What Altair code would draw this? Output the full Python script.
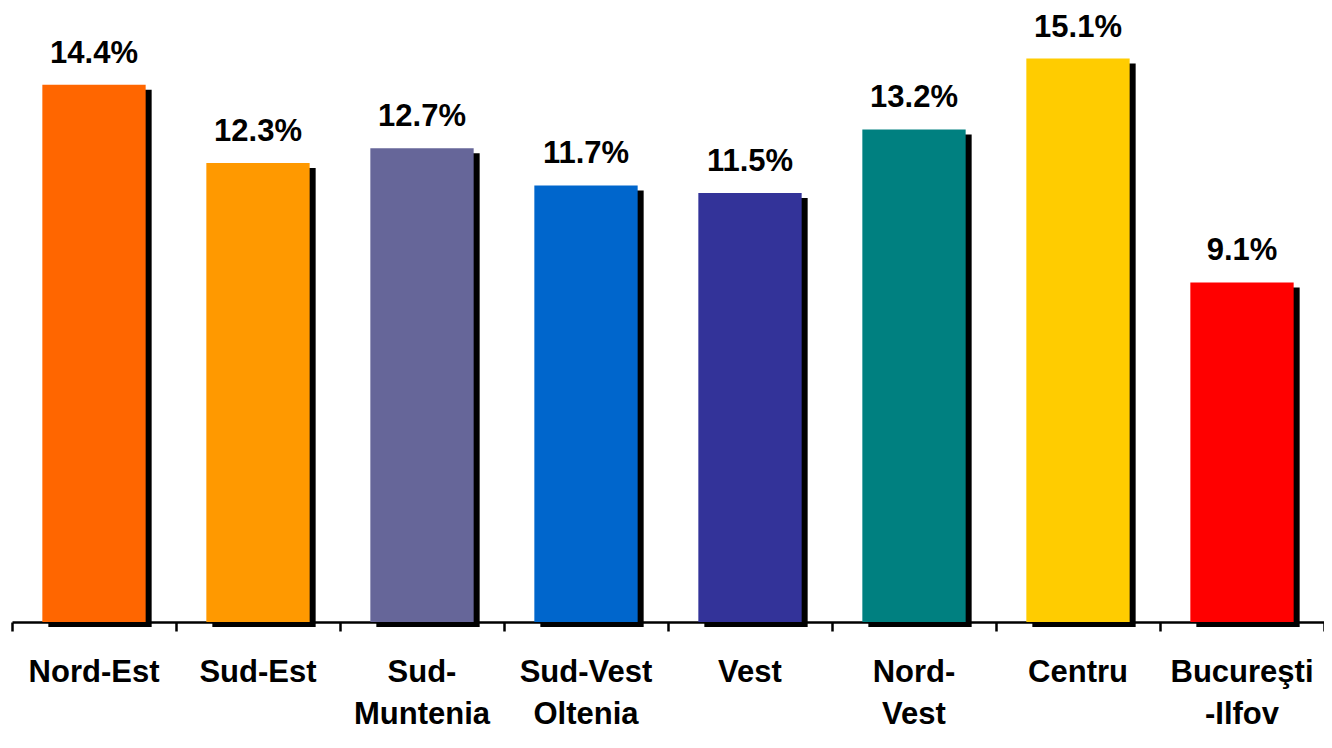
import altair as alt
import pandas as pd

regions = ["Nord-Est", "Sud-Est", "Sud-|Muntenia", "Sud-Vest|Oltenia", "Vest", "Nord-|Vest", "Centru", "Bucureşti|-Ilfov"]
values = [14.4, 12.3, 12.7, 11.7, 11.5, 13.2, 15.1, 9.1]
colors = ["#FF6600", "#FF9900", "#666699", "#0066CC", "#333399", "#008080", "#FFCC00", "#FF0000"]
boundaries = list(range(len(regions) + 1))

df = pd.DataFrame({"region": regions, "value": values, "color": colors,
                   "label": [f"{v:.1f}%" for v in values]})
bdf = pd.DataFrame({"b": boundaries})

FONT = "Liberation Sans"

x = alt.X("region:N", sort=regions,
          scale=alt.Scale(paddingInner=0.37, paddingOuter=0.185),
          axis=alt.Axis(title=None, orient="bottom", labelAngle=0, labelFont=FONT,
                        labelFontSize=31, labelFontWeight="bold", labelColor="black",
                        labelExpr="split(datum.label, '|')", labelLineHeight=42,
                        labelPadding=35, ticks=False, domain=False, grid=False))
y = alt.Y("value:Q", scale=alt.Scale(domain=[0, 16]), axis=None)

base = alt.Chart(df)
shadow = base.mark_bar(color="black", xOffset=6, yOffset=5).encode(x=x, y=y)
bars = base.mark_bar().encode(x=x, y=y, color=alt.Color("color:N", scale=None))
text = base.mark_text(font=FONT, fontSize=31, fontWeight="bold", baseline="alphabetic",
                      dy=-22, color="black").encode(x=x, y=y, text="label:N")
main = alt.layer(shadow, bars, text)

ticks = alt.Chart(bdf).mark_point(opacity=0).encode(
    x=alt.X("b:Q", scale=alt.Scale(domain=[0, len(regions)], nice=False, zero=False),
            axis=alt.Axis(title=None, orient="bottom", values=boundaries, labels=False,
                          tickSize=9, tickWidth=2.5, tickColor="black",
                          domainColor="black", domainWidth=2.5, grid=False)),
    y=alt.value(0),
)

chart = alt.layer(main, ticks).resolve_scale(x="independent").properties(
    width=1312, height=597,
    background="white",
    autosize=alt.AutoSizeParams(type="none"),
    padding={"left": 4, "top": 17, "right": 0, "bottom": 118},
).configure_view(stroke=None, strokeWidth=0).configure_axis(grid=False)

chart.save("out.html", embed_options={"renderer": "svg", "actions": False})
